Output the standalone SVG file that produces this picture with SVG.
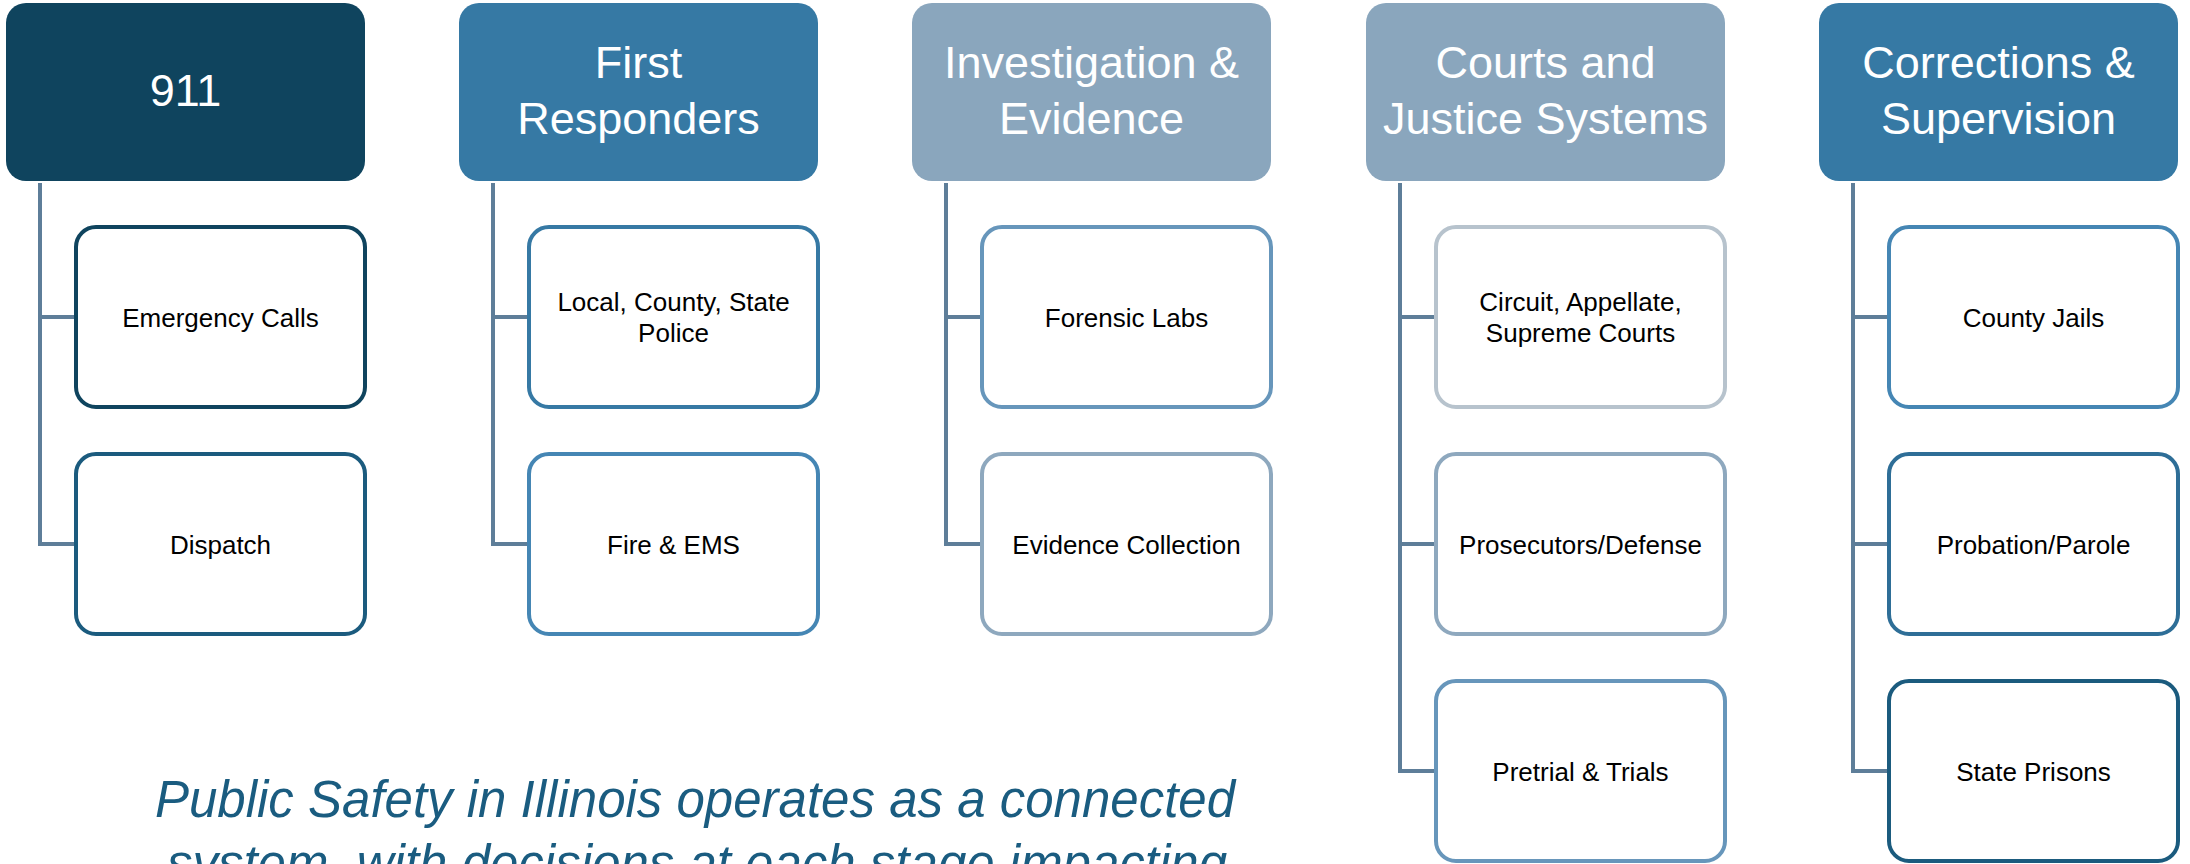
<svg xmlns="http://www.w3.org/2000/svg" width="2190" height="864" viewBox="0 0 2190 864">
  <style>
    .hdr { stroke: none; }
    .hdr-t { font-family: "Liberation Sans", Arial, sans-serif; font-size: 45px; fill: #ffffff; text-anchor: middle; }
    .box { fill: #ffffff; stroke-width: 4; }
    .box-t { font-family: "Liberation Sans", Arial, sans-serif; font-size: 26px; fill: #000000; text-anchor: middle; }
    .conn { fill: none; stroke: #5E7E99; stroke-width: 4; stroke-linejoin: miter; }
    .caption { font-family: "Liberation Sans", Arial, sans-serif; font-size: 51px; font-style: italic; fill: #1A5C80; text-anchor: middle; }
  </style>
  <rect width="2190" height="864" fill="#ffffff"/>

  <g id="connectors">
    <path class="conn" d="M40,183 V544 H76 M40,317 H76"/>
    <path class="conn" d="M493,183 V544 H529 M493,317 H529"/>
    <path class="conn" d="M946,183 V544 H982 M946,317 H982"/>
    <path class="conn" d="M1400,183 V771 H1436 M1400,317 H1436 M1400,544 H1436"/>
    <path class="conn" d="M1853,183 V771 H1889 M1853,317 H1889 M1853,544 H1889"/>
  </g>

  <!-- 911 column -->
  <g id="h-911">
    <rect class="hdr" x="6" y="3" width="359" height="178" rx="20" fill="#0F445E"/>
    <text class="hdr-t" x="185.5" y="106">911</text>
  </g>
  <g id="n-emergency-calls">
    <rect class="box" x="76" y="227" width="289" height="180" rx="20" stroke="#0F445E"/>
    <text class="box-t" x="220.5" y="327">Emergency Calls</text>
  </g>
  <g id="n-dispatch">
    <rect class="box" x="76" y="454" width="289" height="180" rx="20" stroke="#1B5B7E"/>
    <text class="box-t" x="220.5" y="554">Dispatch</text>
  </g>

  <!-- First Responders column -->
  <g id="h-first-responders">
    <rect class="hdr" x="459" y="3" width="359" height="178" rx="20" fill="#3679A4"/>
    <text class="hdr-t" x="638.5" y="78">First</text>
    <text class="hdr-t" x="638.5" y="134">Responders</text>
  </g>
  <g id="n-police">
    <rect class="box" x="529" y="227" width="289" height="180" rx="20" stroke="#3679A4"/>
    <text class="box-t" x="673.5" y="311">Local, County, State</text>
    <text class="box-t" x="673.5" y="342">Police</text>
  </g>
  <g id="n-fire-ems">
    <rect class="box" x="529" y="454" width="289" height="180" rx="20" stroke="#4586B4"/>
    <text class="box-t" x="673.5" y="554">Fire &amp; EMS</text>
  </g>

  <!-- Investigation column -->
  <g id="h-investigation">
    <rect class="hdr" x="912" y="3" width="359" height="178" rx="20" fill="#8AA6BD"/>
    <text class="hdr-t" x="1091.5" y="78">Investigation &amp;</text>
    <text class="hdr-t" x="1091.5" y="134">Evidence</text>
  </g>
  <g id="n-forensic-labs">
    <rect class="box" x="982" y="227" width="289" height="180" rx="20" stroke="#6796BB"/>
    <text class="box-t" x="1126.5" y="327">Forensic Labs</text>
  </g>
  <g id="n-evidence-collection">
    <rect class="box" x="982" y="454" width="289" height="180" rx="20" stroke="#8EA8BE"/>
    <text class="box-t" x="1126.5" y="554">Evidence Collection</text>
  </g>

  <!-- Courts column -->
  <g id="h-courts">
    <rect class="hdr" x="1366" y="3" width="359" height="178" rx="20" fill="#8AA6BD"/>
    <text class="hdr-t" x="1545.5" y="78">Courts and</text>
    <text class="hdr-t" x="1545.5" y="134">Justice Systems</text>
  </g>
  <g id="n-courts">
    <rect class="box" x="1436" y="227" width="289" height="180" rx="20" stroke="#B7C3CD"/>
    <text class="box-t" x="1580.5" y="311">Circuit, Appellate,</text>
    <text class="box-t" x="1580.5" y="342">Supreme Courts</text>
  </g>
  <g id="n-prosecutors">
    <rect class="box" x="1436" y="454" width="289" height="180" rx="20" stroke="#8EA8BE"/>
    <text class="box-t" x="1580.5" y="554">Prosecutors/Defense</text>
  </g>
  <g id="n-pretrial">
    <rect class="box" x="1436" y="681" width="289" height="180" rx="20" stroke="#6796BB"/>
    <text class="box-t" x="1580.5" y="781">Pretrial &amp; Trials</text>
  </g>

  <!-- Corrections column -->
  <g id="h-corrections">
    <rect class="hdr" x="1819" y="3" width="359" height="178" rx="20" fill="#3679A4"/>
    <text class="hdr-t" x="1998.5" y="78">Corrections &amp;</text>
    <text class="hdr-t" x="1998.5" y="134">Supervision</text>
  </g>
  <g id="n-county-jails">
    <rect class="box" x="1889" y="227" width="289" height="180" rx="20" stroke="#4586B4"/>
    <text class="box-t" x="2033.5" y="327">County Jails</text>
  </g>
  <g id="n-probation">
    <rect class="box" x="1889" y="454" width="289" height="180" rx="20" stroke="#2E6E97"/>
    <text class="box-t" x="2033.5" y="554">Probation/Parole</text>
  </g>
  <g id="n-state-prisons">
    <rect class="box" x="1889" y="681" width="289" height="180" rx="20" stroke="#1B5B7E"/>
    <text class="box-t" x="2033.5" y="781">State Prisons</text>
  </g>

  <g id="caption">
    <text class="caption" x="695" y="817">Public Safety in Illinois operates as a connected</text>
    <text class="caption" x="697" y="881">system, with decisions at each stage impacting</text>
  </g>
</svg>
